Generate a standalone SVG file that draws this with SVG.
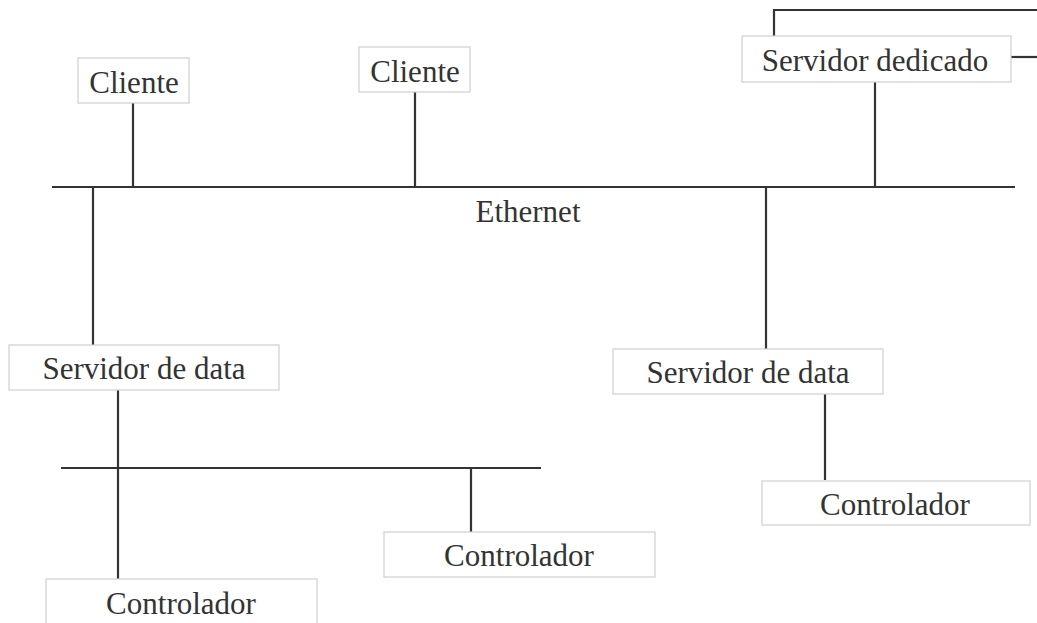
<svg xmlns="http://www.w3.org/2000/svg" width="1037" height="623" viewBox="0 0 1037 623">
<style>
.box{fill:#fff;stroke:#cfcfcf;stroke-width:1.2}
.lbl{font-family:"Liberation Serif","Times New Roman",serif;font-size:31px;fill:#333;text-anchor:middle}
.ln{stroke:#333;stroke-width:2.2;fill:none}
</style>
<rect width="1037" height="623" fill="#fff"/>
<g id="connectors">
<line class="ln" x1="52" y1="187" x2="1015" y2="187"/>
<line class="ln" x1="133" y1="103" x2="133" y2="187"/>
<line class="ln" x1="415" y1="92" x2="415" y2="187"/>
<line class="ln" x1="875" y1="82" x2="875" y2="187"/>
<polyline class="ln" points="774,36 774,10 1037,10"/>
<line class="ln" x1="1011" y1="57" x2="1037" y2="57"/>
<line class="ln" x1="93" y1="187" x2="93" y2="345"/>
<line class="ln" x1="766" y1="187" x2="766" y2="349"/>
<line class="ln" x1="61" y1="468" x2="541" y2="468"/>
<line class="ln" x1="118" y1="390" x2="118" y2="579"/>
<line class="ln" x1="471" y1="468" x2="471" y2="532"/>
<line class="ln" x1="825" y1="394" x2="825" y2="480"/>
</g>
<g id="ethernet-label"><text class="lbl" x="528" y="222">Ethernet</text></g>
<g id="cliente1"><rect class="box" x="78" y="58" width="111" height="45"/><text class="lbl" x="134" y="93">Cliente</text></g>
<g id="cliente2"><rect class="box" x="359" y="47" width="111" height="45"/><text class="lbl" x="415" y="82">Cliente</text></g>
<g id="servidor-dedicado"><rect class="box" x="742" y="36" width="269" height="46"/><text class="lbl" x="875" y="71">Servidor dedicado</text></g>
<g id="servidor-data1"><rect class="box" x="9" y="345" width="270" height="45"/><text class="lbl" x="144" y="379">Servidor de data</text></g>
<g id="servidor-data2"><rect class="box" x="613" y="349" width="270" height="45"/><text class="lbl" x="748" y="383">Servidor de data</text></g>
<g id="controlador1"><rect class="box" x="46" y="579" width="271" height="60"/><text class="lbl" x="181" y="614">Controlador</text></g>
<g id="controlador2"><rect class="box" x="384" y="532" width="271" height="45"/><text class="lbl" x="519" y="566">Controlador</text></g>
<g id="controlador3"><rect class="box" x="762" y="481" width="268" height="44"/><text class="lbl" x="895" y="515">Controlador</text></g>
</svg>
